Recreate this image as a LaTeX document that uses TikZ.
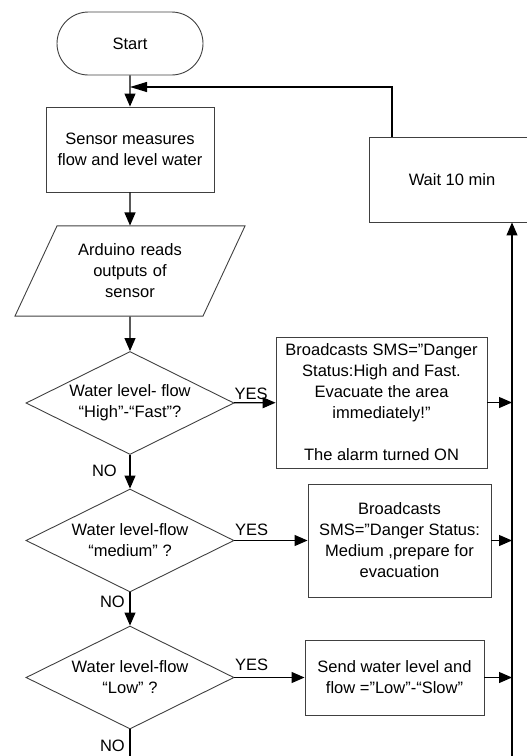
\documentclass[tikz,border=0pt]{standalone}
\usepackage{fontspec}
\setmainfont{Liberation Sans}
\usetikzlibrary{shapes.geometric,shapes.misc,arrows.meta}
\tikzset{
  box/.style={draw=black!75, line width=0.9pt, align=center, inner sep=0pt, font=\fontsize{16.5}{21}\selectfont},
  term/.style={box, rounded rectangle, minimum width=146pt, minimum height=63pt},
  proc/.style={box, rectangle},
  io/.style={box, trapezium, trapezium left angle=65, trapezium right angle=115, text width=146pt, inner xsep=0pt, inner ysep=18pt},
  test/.style={box, diamond, aspect=2, inner sep=-2pt, minimum width=208pt, minimum height=103pt},
  lbl/.style={font=\fontsize{16.5}{21}\selectfont, inner sep=0pt},
  flow/.style={draw=black, line width=1.1pt, -{Triangle[length=13pt,width=11pt]}},
}
\begin{document}
\begin{tikzpicture}[x=1pt,y=-1pt]
    \useasboundingbox (0,0) rectangle (527,756);
    \clip (0,0) rectangle (527,756);
    % left column
    \node [term] (start) at (130,43.5) {Start};
    \node [proc, minimum width=168pt, minimum height=85pt] (sensor) at (130,149.5) {Sensor measures\\flow and level water};
    \node [io] (read) at (130,271) {Arduino reads\\outputs of\\sensor};
    \node [test] (q1) at (130,403) {Water level- flow\\“High”-“Fast”?};
    \node [test] (q2) at (130,540.5) {Water level-flow\\“medium” ?};
    \node [test] (q3) at (130,677.5) {Water level-flow\\“Low” ?};
    % right column
    \node [proc, minimum width=211pt, minimum height=131pt] (sms1) at (381.5,402.5) {Broadcasts SMS=”Danger\\Status:High and Fast.\\Evacuate the area\\immediately!”\\[21pt]The alarm turned ON};
    \node [proc, minimum width=183pt, minimum height=113pt] (sms2) at (399.5,540.5) {Broadcasts\\SMS=”Danger Status:\\Medium ,prepare for\\evacuation};
    \node [proc, minimum width=179pt, minimum height=75pt] (send) at (394.5,677.5) {Send water level and\\flow =”Low”-“Slow”};
    \node [proc, minimum width=166pt, minimum height=85pt] (wait) at (452,179.5) {Wait 10 min};
    \coordinate (bus) at (512,756);
    \coordinate (back) at (392,87);
    \coordinate (end) at (130,756);
    % arrows
    \draw [flow] (start) -- (sensor);
    \draw [flow] (sensor) -- (read);
    \draw [flow] (read) -- (q1);
    \draw [flow] (q1) -- (q2);
    \draw [flow] (q2) -- (q3);
    \draw [line width=1.1pt] (q3.south) -- (end);
    \draw [flow] (q1) -- node [lbl, pos=0, anchor=south west, inner ysep=3pt] (yes1) {YES} (sms1);
    \draw [flow] (q2) -- node [lbl, pos=0, anchor=south west, inner ysep=4pt] (yes2) {YES} (sms2);
    \draw [flow] (q3) -- node [lbl, pos=0, anchor=south west, inner ysep=6pt] (yes3) {YES} (send);
    \node [lbl, anchor=north east] (no1) at (117,465) {NO};
    \node [lbl, anchor=north east] (no2) at (125,596) {NO};
    \node [lbl, anchor=north east] (no3) at (125,740) {NO};
    \draw [flow] (sms1.east) -- (sms1.east -| bus);
    \draw [flow] (sms2.east) -- (sms2.east -| bus);
    \draw [flow] (send.east) -- (send.east -| bus);
    \draw [flow] (bus) -- (wait.south -| bus);
    \draw [flow, -{Triangle[length=17pt,width=10pt]}] (wait.north -| back) -- (back) -- (back -| start.south);
\end{tikzpicture}
\end{document}
